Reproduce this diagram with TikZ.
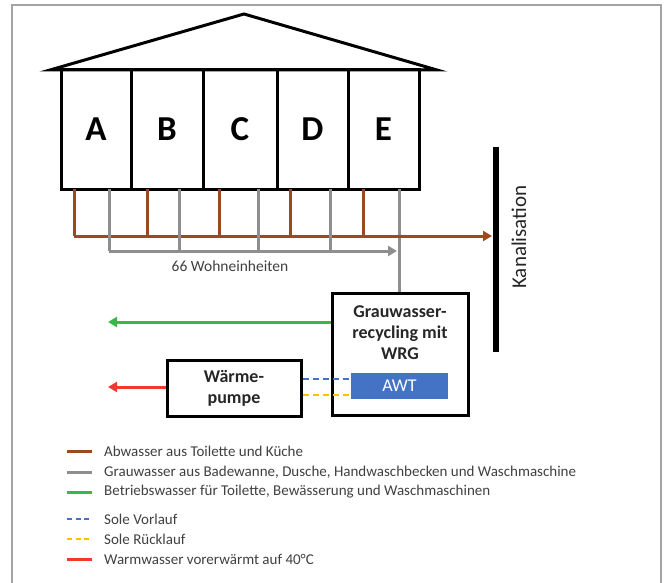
\documentclass[tikz,border=0pt]{standalone}
\usepackage{fontspec}
\setmainfont{Carlito}
\usetikzlibrary{arrows.meta}
\definecolor{cbrown}{HTML}{9A4A1C}
\definecolor{cgray}{HTML}{8E8E8E}
\definecolor{cgreen}{HTML}{3DB54A}
\definecolor{cblue}{HTML}{4472C4}
\definecolor{cyellow}{HTML}{FFC000}
\definecolor{cred}{HTML}{EE3B2B}
\definecolor{ctext}{HTML}{404040}
\tikzset{
  house/.style={line width=3pt,line join=miter},
  unitbox/.style={draw,line width=3pt,minimum width=70pt,minimum height=119pt,inner sep=0pt,font=\fontsize{35}{38}\selectfont\bfseries},
  brownpipe/.style={cbrown,line width=3pt},
  graypipe/.style={cgray,line width=3pt},
  flowarrow/.style={-{Triangle[length=9pt,width=10pt]}},
  plantbox/.style={draw,line width=3pt,inner sep=0pt,align=center,font=\fontsize{18}{21}\selectfont\bfseries},
  legtext/.style={anchor=west,text=ctext,font=\fontsize{15}{16}\selectfont,inner sep=0pt},
  legline/.style={line width=3pt},
  soledash/.style={line width=2pt,dash pattern=on 6pt off 4pt}
}
\begin{document}
\begin{tikzpicture}[x=1pt,y=-1pt]
\useasboundingbox (0,0) rectangle (664,583);
% frame
\draw[cgray!80,line width=1.5pt] (12,583) -- (12,5) -- (661,5) -- (661,583);
% roof
\coordinate (peak) at (244,14);
\coordinate (eaveL) at (50,70);
\coordinate (eaveR) at (437,70);
\draw[house] (eaveL) -- (peak) -- (eaveR) -- cycle;
% units
\node[unitbox] (A) at (96,129.5) {A};
\node[unitbox,minimum width=72pt] (B) at (167,129.5) {B};
\node[unitbox,minimum width=74pt] (C) at (240,129.5) {C};
\node[unitbox,minimum width=71pt] (D) at (312.5,129.5) {D};
\node[unitbox,minimum width=71pt] (E) at (383.5,129.5) {E};
% brown collection
\coordinate (b1) at (74,189); \coordinate (b1e) at (74,236);
\coordinate (b2) at (147,189); \coordinate (b2e) at (147,236);
\coordinate (b3) at (219,189); \coordinate (b3e) at (219,236);
\coordinate (b4) at (290,189); \coordinate (b4e) at (290,236);
\coordinate (b5) at (363,189); \coordinate (b5e) at (363,236);
\coordinate (kanIn) at (492,236);
% gray collection
\coordinate (g1) at (109,189); \coordinate (g1e) at (109,251);
\coordinate (g2) at (179,189); \coordinate (g2e) at (179,251);
\coordinate (g3) at (258,189); \coordinate (g3e) at (258,251);
\coordinate (g4) at (330,189); \coordinate (g4e) at (330,251);
\coordinate (g5) at (399,189);
\coordinate (gArr) at (397,251);
% kanalisation
\coordinate (k1) at (496,147); \coordinate (k2) at (496,352);
\draw[line width=6pt] (k1) -- (k2);
\node[rotate=90,font=\fontsize{21}{22}\selectfont,text=black!85] (kan) at (519,237) {Kanalisation};
% grey water plant
\node[plantbox,minimum width=136pt,minimum height=122pt] (GW) at (400,354) {};
\node[font=\fontsize{18}{21}\selectfont\bfseries,align=center,text=black!85] (GWt) at (400,333) {Grauwasser-\\recycling mit\\WRG};
\node[fill=cblue,minimum width=97pt,minimum height=26pt,inner sep=0pt,text=white,font=\fontsize{18}{18}\selectfont] (AWT) at (399.5,386) {AWT};
% heat pump
\node[plantbox,minimum width=134pt,minimum height=56pt,text=black!85] (WP) at (234,388) {Wärme-\\pumpe};
% pipes drawing
\draw[graypipe] (g5) -- (GW.north -| g5);
\draw[brownpipe] (b1) -- (b1e);
\foreach \p in {b2,b3,b4,b5} \draw[brownpipe] (\p) -- (\p e);
\draw[brownpipe,flowarrow] (b1e) -- (kanIn);
\draw[graypipe] (g1) -- (g1e);
\foreach \p in {g2,g3,g4} \draw[graypipe] (\p) -- (\p e);
\draw[graypipe,flowarrow] (g1e) -- (gArr);
\node[text=ctext,font=\fontsize{15.5}{16}\selectfont] (WE) at (230,266) {66 Wohneinheiten};
% outputs
\coordinate (greenEnd) at (108,322);
\coordinate (redEnd) at (108,387);
\draw[cgreen,line width=3pt,flowarrow] (GW.west |- greenEnd) -- (greenEnd);
\draw[cred,line width=3pt,flowarrow] (WP.west |- redEnd) -- (redEnd);
\draw[cblue,soledash] (WP.east |- 0,379) -- (AWT.west |- 0,379);
\draw[cyellow,soledash] (WP.east |- 0,395) -- (AWT.west |- 0,395);
% legend
\draw[cbrown,legline] (67,451) -- (92,451);
\node[legtext] (L1) at (104,451) {Abwasser aus Toilette und Küche};
\draw[cgray,legline] (67,472) -- (92,472);
\node[legtext] (L2) at (104,472) {Grauwasser aus Badewanne, Dusche, Handwaschbecken und Waschmaschine};
\draw[cgreen,legline] (67,492) -- (92,492);
\node[legtext] (L3) at (104,492) {Betriebswasser für Toilette, Bewässerung und Waschmaschinen};
\draw[cblue,line width=2pt,dash pattern=on 5pt off 3.5pt] (67,519) -- (92,519);
\node[legtext] (L4) at (104,519) {Sole Vorlauf};
\draw[cyellow,line width=2pt,dash pattern=on 5pt off 3.5pt] (67,539) -- (92,539);
\node[legtext] (L5) at (104,539) {Sole Rücklauf};
\draw[cred,legline] (67,559) -- (92,559);
\node[legtext] (L6) at (104,559) {Warmwasser vorerwärmt auf 40°C};
\end{tikzpicture}
\end{document}
